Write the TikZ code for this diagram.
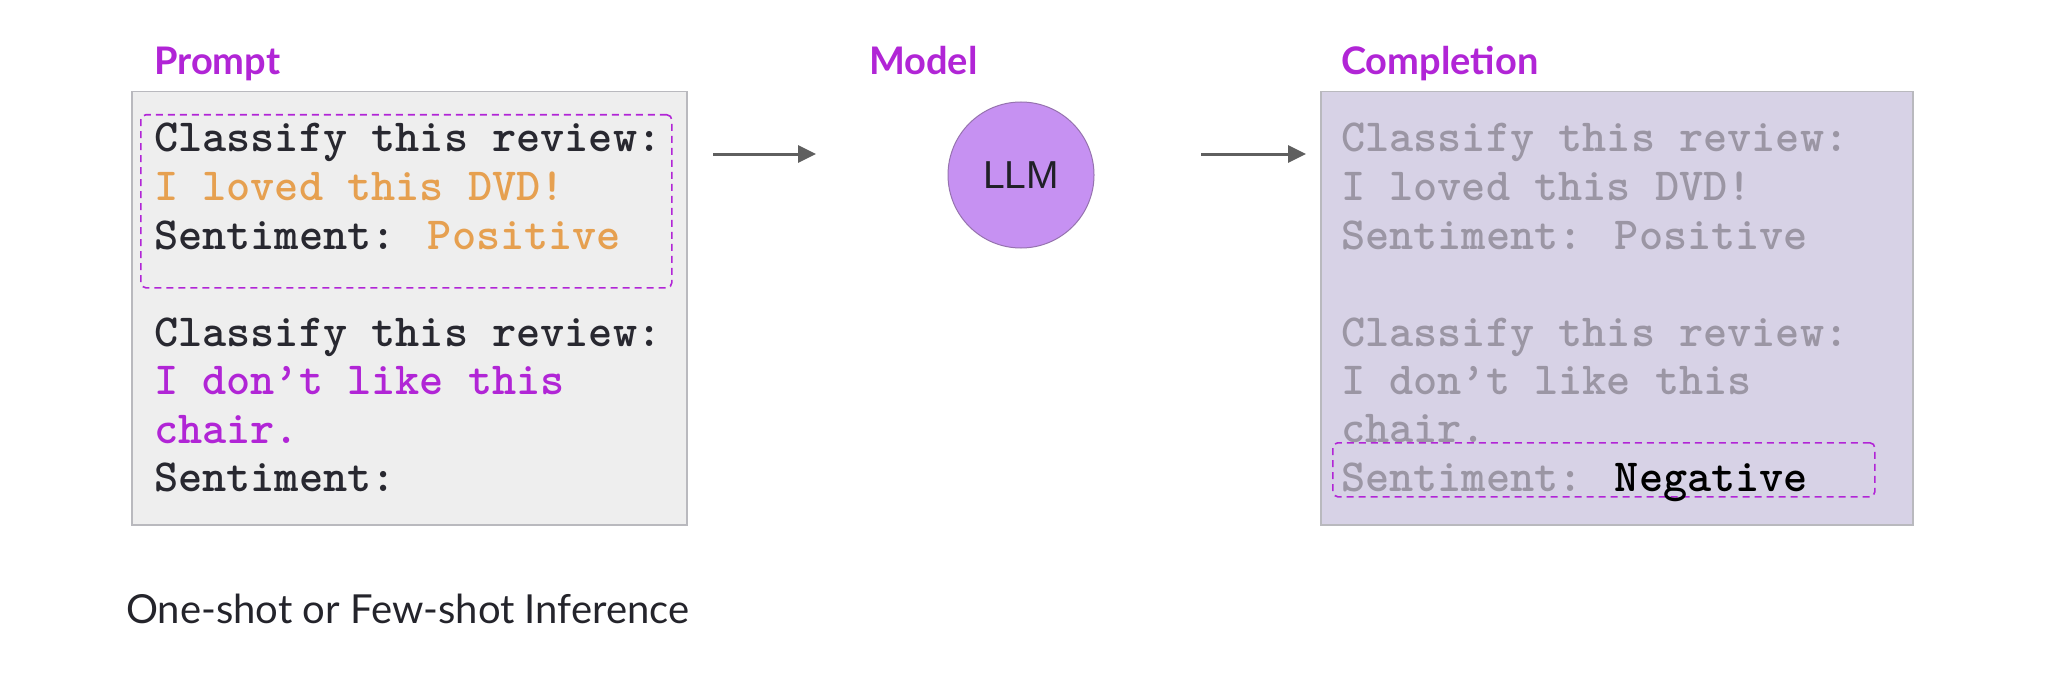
\documentclass[tikz,border=0pt]{standalone}
\usepackage{fontspec}
\setmainfont{Lato}
\newfontfamily\latof{Lato}
\newfontfamily\arialf{Liberation Sans}
\usetikzlibrary{arrows.meta}
\definecolor{ttl}{RGB}{177,37,214}
\definecolor{orng}{RGB}{230,160,80}
\definecolor{dtxt}{RGB}{40,40,48}
\definecolor{gtxt}{RGB}{155,150,164}
\definecolor{lav}{RGB}{215,210,230}
\definecolor{pfill}{RGB}{238,238,238}
\definecolor{bordr}{RGB}{185,185,190}
\definecolor{circf}{RGB}{198,145,242}
\definecolor{circd}{RGB}{150,115,175}
\definecolor{arrc}{RGB}{95,95,95}
\begin{document}
\begin{tikzpicture}[x=1pt,y=-1pt,
  title/.style={anchor=base west,inner sep=0pt,font=\latof\bfseries\fontsize{38}{42}\selectfont,text=ttl},
  code/.style={anchor=base west,inner sep=0pt,font=\ttfamily\bfseries\fontsize{46}{50}\selectfont},
  panel/.style={draw=bordr,line width=1.5pt},
  dashbox/.style={draw=ttl,line width=1.6pt,dash pattern=on 7pt off 5pt,rounded corners=5pt},
  arr/.style={draw=arrc,line width=3pt,-{Triangle[length=18pt,width=17pt]}}]
\useasboundingbox (0,0) rectangle (2058,674);
\fill[white] (0,0) rectangle (2058,674);
% Titles
\node[title] (tprompt) at (154,75) {Prompt};
\node[title] (tmodel) at (869,75) {Model};
\node[title] (tcomp) at (1341,75) {Completion};
% Prompt panel
\node[panel,fill=pfill,minimum width=555pt,minimum height=433pt,anchor=north west,inner sep=0pt] (prompt) at (131,91) {};
\node[dashbox,minimum width=531pt,minimum height=173pt,anchor=north west,inner sep=0pt] (ex) at (140,114) {};
\node[code,text=dtxt] (p0) at (154,152) {Classify this review:};
\node[code,text=orng] (p1) at (154,200.5) {I loved this DVD!};
\node[code,text=dtxt] (p2) at (154,249) {Sentiment: \textcolor{orng}{Positive}};
\node[code,text=dtxt] (p4) at (154,346) {Classify this review:};
\node[code,text=ttl] (p5) at (154,394.5) {I don’t like this};
\node[code,text=ttl] (p6) at (154,443) {chair.};
\node[code,text=dtxt] (p7) at (154,491.5) {Sentiment:};
% Model
\node[circle,draw=circd,line width=1pt,fill=circf,minimum size=146pt,inner sep=0pt,font=\arialf\fontsize{39}{40}\selectfont,text=dtxt!80!black] (llm) at (1021,175) {LLM};
% Completion panel
\node[panel,fill=lav,minimum width=592pt,minimum height=433pt,anchor=north west,inner sep=0pt] (comp) at (1320,91) {};
\node[code,text=gtxt] (c0) at (1341,152) {Classify this review:};
\node[code,text=gtxt] (c1) at (1341,200.5) {I loved this DVD!};
\node[code,text=gtxt] (c2) at (1341,249) {Sentiment: Positive};
\node[code,text=gtxt] (c4) at (1341,346) {Classify this review:};
\node[code,text=gtxt] (c5) at (1341,394.5) {I don’t like this};
\node[code,text=gtxt] (c6) at (1341,442) {chair.};
\node[dashbox,fill=lav,minimum width=542pt,minimum height=54pt,anchor=north west,inner sep=0pt] (ans) at (1332,442) {};
\node[code,text=gtxt] (c7) at (1341,491.5) {Sentiment: \textcolor{black}{Negative}};
% Arrows
\coordinate (a1s) at (713,154);
\coordinate (a1e) at (816,154);
\coordinate (a2s) at (1201,154);
\coordinate (a2e) at (1306,154);
\draw[arr] (a1s) -- (a1e);
\draw[arr] (a2s) -- (a2e);
% Caption
\node[anchor=base west,inner sep=0pt,font=\latof\fontsize{40}{44}\selectfont,text=dtxt!90!black] (cap) at (126,623) {One-shot or Few-shot Inference};
\end{tikzpicture}
\end{document}
